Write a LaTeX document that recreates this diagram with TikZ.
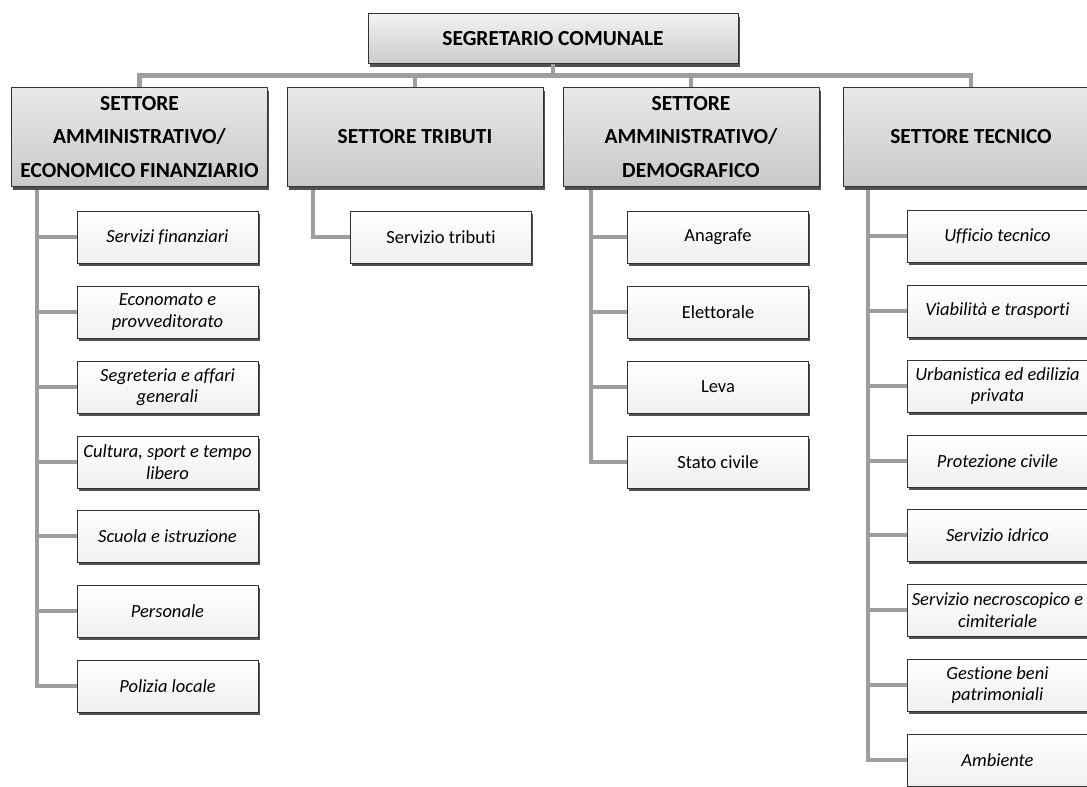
\documentclass[tikz,border=0pt]{standalone}
\usepackage{fontspec}
\setmainfont{Carlito}[Ligatures=NoCommon]
\usetikzlibrary{shadows}
\begin{document}
\begin{tikzpicture}[x=1pt,y=-1pt,
  conn/.style={draw=black!38,line width=4.5pt},
  shad/.style={drop shadow={shadow xshift=1.5pt,shadow yshift=-3pt,fill=black!80,opacity=0.85}},
  topbox/.style={shad,draw=black!80,line width=0.8pt,top color=gray!10,bottom color=gray!40,
    minimum width=370pt,minimum height=50pt,inner sep=0pt,
    font=\fontsize{21.5}{26}\selectfont\bfseries},
  secbox/.style={shad,draw=black!80,line width=0.8pt,top color=gray!18,bottom color=gray!42,
    minimum width=256pt,minimum height=99pt,inner sep=0pt,align=center,
    font=\fontsize{21.5}{33.5}\selectfont\bfseries},
  subbox/.style={shad,draw=black!80,line width=0.8pt,top color=white,bottom color=gray!12,
    minimum width=181pt,minimum height=52pt,inner sep=0pt,align=center,
    font=\fontsize{18.5}{21.5}\selectfont},
  itbox/.style={subbox,font=\fontsize{18.5}{21.5}\selectfont\itshape}
]
\path[use as bounding box,clip] (0,0) rectangle (1087,787);
\fill[white] (0,0) rectangle (1087,787);

% top
\node[topbox] (top) at (553,38.5) {SEGRETARIO COMUNALE};

% sectors
\node[secbox] (s1) at (139.5,137) {SETTORE\\AMMINISTRATIVO/\\ECONOMICO FINANZIARIO};
\node[secbox] (s2) at (415,137) {SETTORE TRIBUTI};
\node[secbox] (s3) at (691,137) {SETTORE\\AMMINISTRATIVO/\\DEMOGRAFICO};
\node[secbox] (s4) at (971,137) {SETTORE TECNICO};

% column 1
\node[itbox] (a1) at (167.5,237) {Servizi finanziari};
\node[itbox] (a2) at (167.5,312) {Economato e\\provveditorato};
\node[itbox] (a3) at (167.5,387) {Segreteria e affari\\generali};
\node[itbox] (a4) at (167.5,462) {Cultura, sport e tempo\\libero};
\node[itbox] (a5) at (167.5,536) {Scuola e istruzione};
\node[itbox] (a6) at (167.5,611) {Personale};
\node[itbox] (a7) at (167.5,686) {Polizia locale};

% column 2
\node[subbox] (b1) at (441,237) {Servizio tributi};

% column 3
\node[subbox] (c1) at (718,237) {Anagrafe};
\node[subbox] (c2) at (718,312) {Elettorale};
\node[subbox] (c3) at (718,387) {Leva};
\node[subbox] (c4) at (718,462) {Stato civile};

% column 4
\node[itbox] (d1) at (997.5,236) {Ufficio tecnico};
\node[itbox] (d2) at (997.5,311) {Viabilità e trasporti};
\node[itbox] (d3) at (997.5,386) {Urbanistica ed edilizia\\privata};
\node[itbox] (d4) at (997.5,461) {Protezione civile};
\node[itbox] (d5) at (997.5,535) {Servizio idrico};
\node[itbox] (d6) at (997.5,610) {Servizio necroscopico e\\cimiteriale};
\node[itbox] (d7) at (997.5,685) {Gestione beni\\patrimoniali};
\node[itbox] (d8) at (997.5,760) {Ambiente};

% connectors
\coordinate (bus) at (553,75.5);
\coordinate (v1) at (37,190);
\coordinate (v2) at (313,190);
\coordinate (v3) at (591,190);
\coordinate (v4) at (868,190);

\draw[conn] (top.south) -- (bus);
\draw[conn] (s1.north) |- (bus);
\draw[conn] (s2.north) |- (bus);
\draw[conn] (s3.north) |- (bus);
\draw[conn] (s4.north) |- (bus);

\draw[conn] (v1) |- (a7.west);
\foreach \n in {a1,a2,a3,a4,a5,a6} \draw[conn] (v1 |- \n.west) -- (\n.west);
\draw[conn] (v2) |- (b1.west);
\draw[conn] (v3) |- (c4.west);
\foreach \n in {c1,c2,c3} \draw[conn] (v3 |- \n.west) -- (\n.west);
\draw[conn] (v4) |- (d8.west);
\foreach \n in {d1,d2,d3,d4,d5,d6,d7} \draw[conn] (v4 |- \n.west) -- (\n.west);
\end{tikzpicture}
\end{document}
